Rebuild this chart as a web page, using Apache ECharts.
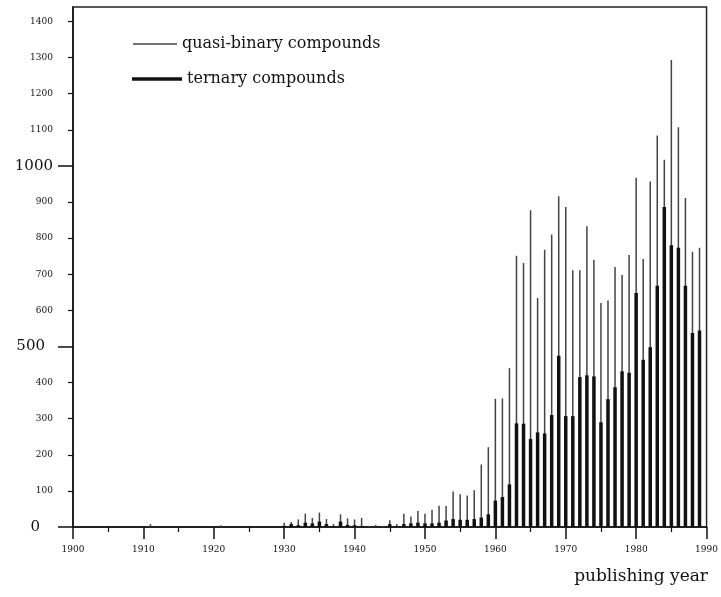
<!DOCTYPE html>
<html>
<head>
<meta charset="utf-8">
<script src="https://cdn.jsdelivr.net/npm/echarts@6/dist/echarts.min.js"></script>
<style>
  html, body { margin: 0; padding: 0; background: #fff; }
  #main { width: 721px; height: 597px; }
</style>
</head>
<body>
<div id="main"></div>
<script>
// years with a non-zero count (all others are 0)
var years = [1911, 1921,
  1930, 1931, 1932, 1933, 1934, 1935, 1936, 1937, 1938, 1939,
  1940, 1941, 1942, 1943, 1944, 1945, 1946, 1947, 1948, 1949,
  1950, 1951, 1952, 1953, 1954, 1955, 1956, 1957, 1958, 1959,
  1960, 1961, 1962, 1963, 1964, 1965, 1966, 1967, 1968, 1969,
  1970, 1971, 1972, 1973, 1974, 1975, 1976, 1977, 1978, 1979,
  1980, 1981, 1982, 1983, 1984, 1985, 1986, 1987, 1988, 1989];

var quasiBinary = [8, 5,
  12, 14, 21, 37, 25, 40, 22, 8, 35, 24,
  21, 25, 3, 6, 3, 19, 8, 37, 29, 44,
  37, 48, 59, 58, 98, 91, 87, 102, 173, 221,
  355, 356, 440, 751, 731, 877, 634, 768, 810, 916,
  886, 711, 711, 833, 740, 620, 627, 720, 698, 753,
  967, 742, 957, 1084, 1017, 1293, 1107, 911, 762, 773];

var ternary = [0, 0,
  3, 8, 5, 12, 10, 15, 8, 3, 15, 6,
  5, 3, 0, 0, 0, 8, 2, 8, 10, 12,
  10, 10, 12, 18, 22, 20, 20, 22, 26, 35,
  73, 83, 118, 287, 286, 244, 262, 259, 310, 474,
  307, 307, 415, 420, 417, 290, 354, 387, 431, 427,
  648, 463, 498, 668, 886, 780, 773, 668, 537, 544];

var yLabels = [0, 100, 200, 300, 400, 500, 600, 700, 800, 900, 1000, 1100, 1200, 1300, 1400];
var yMinorTicks = [100, 200, 300, 400, 600, 700, 800, 900, 1100, 1200, 1300, 1400];
var yMajorTicks = [0, 500, 1000];

var serif = 'DejaVu Serif';
var chart = echarts.init(document.getElementById('main'));

function pairs(vals) {
  return years.map(function (y, i) { return [y, vals[i]]; });
}

var option = {
  backgroundColor: '#ffffff',
  animation: false,
  grid: {
    left: 73, right: 13, top: 7, bottom: 70,
    show: true, borderColor: '#222', borderWidth: 1.5
  },
  title: {
    text: 'publishing year',
    right: 8, top: 563,
    textStyle: { fontFamily: serif, fontSize: 17, fontWeight: 'normal', color: '#111' }
  },
  legend: [{
    data: ['quasi-binary compounds'],
    left: 128, top: 31,
    itemWidth: 44, itemHeight: 1.5, itemGap: 7,
    icon: 'rect',
    textStyle: { fontFamily: serif, fontSize: 16, color: '#111' }
  }, {
    data: ['ternary compounds'],
    left: 127, top: 66,
    itemWidth: 50, itemHeight: 3.5, itemGap: 8,
    icon: 'rect',
    textStyle: { fontFamily: serif, fontSize: 16, color: '#111' }
  }],
  xAxis: [{
    type: 'value', min: 1900, max: 1990, interval: 10,
    splitLine: { show: false },
    axisLine: { lineStyle: { color: '#111', width: 1.5 } },
    axisTick: { length: 12, lineStyle: { color: '#111', width: 1.5 } },
    minorTick: { show: true, splitNumber: 2, length: 5, lineStyle: { color: '#111', width: 1.2 } },
    axisLabel: {
      margin: 18, fontFamily: serif, fontSize: 9, color: '#111',
      formatter: function (v) { return String(v); }
    }
  }, {
    type: 'value', min: 1900, max: 1990, show: false
  }],
  yAxis: [{
    type: 'value', min: 0, max: 1440,
    splitLine: { show: false },
    axisLine: { show: true, lineStyle: { color: '#111', width: 1.5 } },
    axisTick: { show: true, customValues: yMinorTicks, length: 5, lineStyle: { color: '#111', width: 1.2 } },
    axisLabel: {
      customValues: yLabels, margin: 20, color: '#111',
      formatter: function (v) {
        if (v === 1000) return '{b|' + v + '}';
        if (v === 500) return '{c|' + v + '}';
        if (v === 0) return '{d|' + v + '}';
        return '{s|' + v + '}';
      },
      rich: {
        s: { fontFamily: serif, fontSize: 9, color: '#111' },
        b: { fontFamily: serif, fontSize: 15, color: '#111' },
        c: { fontFamily: serif, fontSize: 15, color: '#111', padding: [0, 8, 0, 0] },
        d: { fontFamily: serif, fontSize: 15, color: '#111', padding: [0, 13, 0, 0] }
      }
    }
  }, {
    type: 'value', min: 0, max: 1440, position: 'left',
    splitLine: { show: false },
    axisLine: { show: false },
    axisLabel: { show: false },
    axisTick: { show: true, customValues: yMajorTicks, length: 15, lineStyle: { color: '#111', width: 1.5 } }
  }],
  series: [{
    name: 'quasi-binary compounds',
    type: 'bar',
    xAxisIndex: 1,
    barWidth: 1.5,
    itemStyle: { color: '#444' },
    data: pairs(quasiBinary)
  }, {
    name: 'ternary compounds',
    type: 'bar',
    xAxisIndex: 0,
    barWidth: 3.5,
    itemStyle: { color: '#111' },
    data: pairs(ternary)
  }]
};

chart.setOption(option);
</script>
</body>
</html>
